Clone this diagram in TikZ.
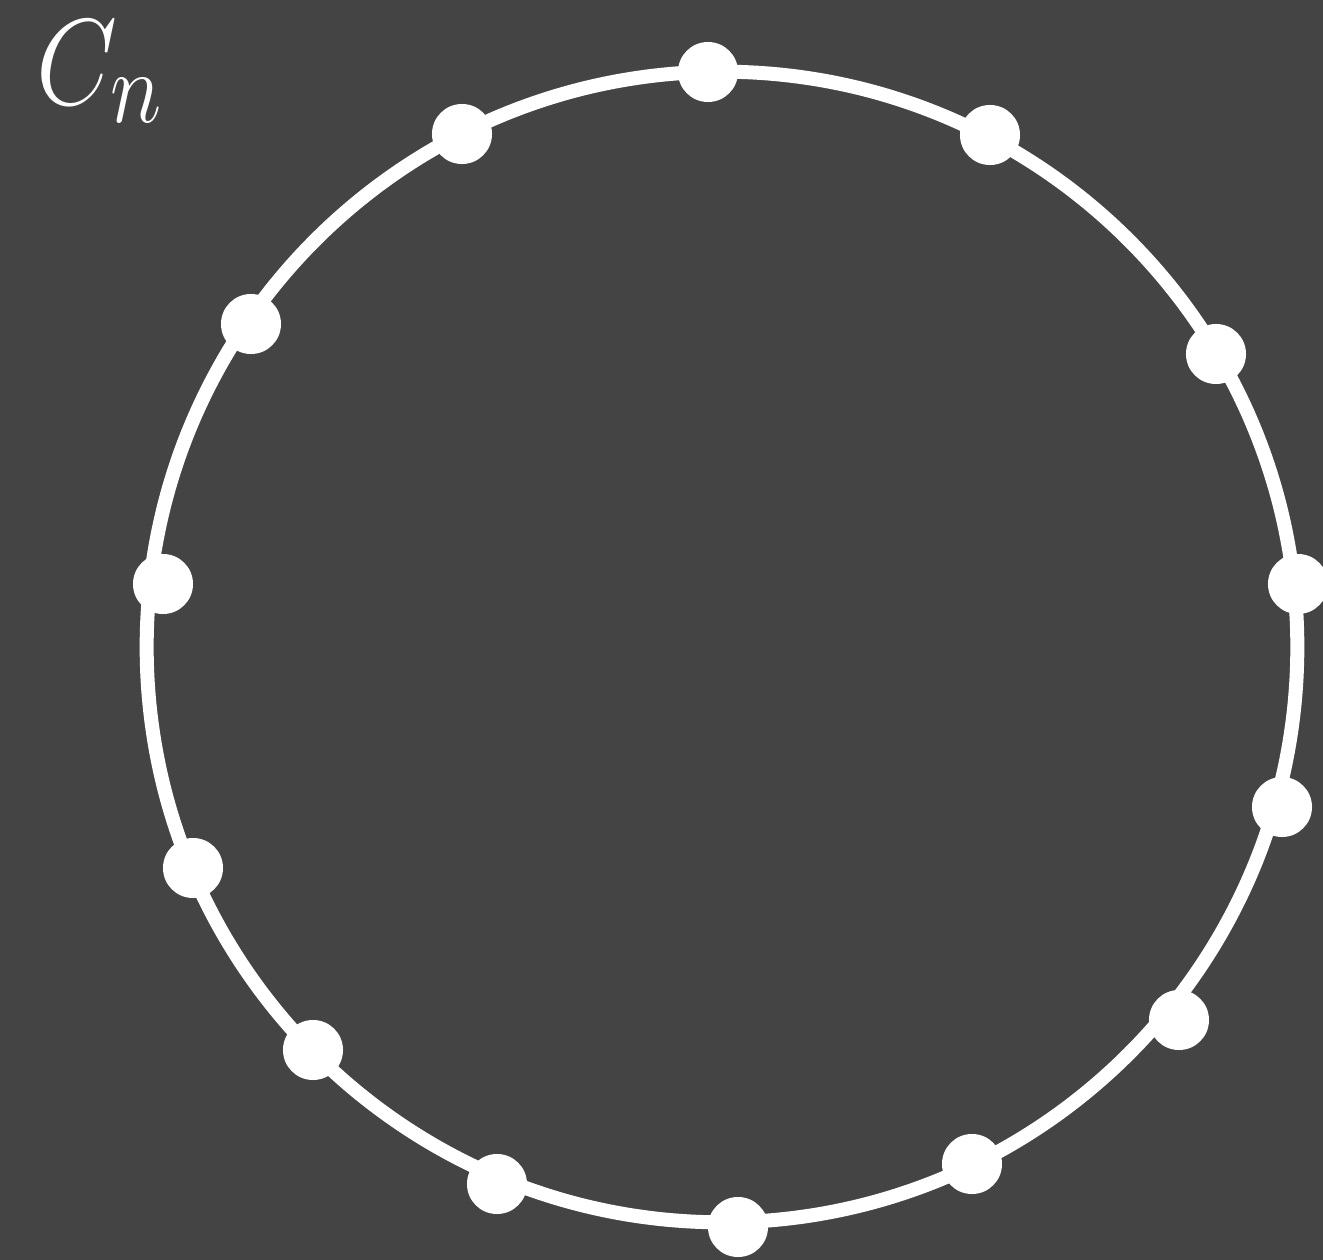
\documentclass[tikz,border=0pt]{standalone}
\usepackage{graphicx}
\usepackage{xcolor}
\definecolor{bgdark}{HTML}{444444}

\begin{document}
\begin{tikzpicture}[
    x=0.01cm,y=-0.01cm,
    ring/.style={draw=white,line width=0.14cm},
    vertex/.style={circle,fill=white,draw=none,inner sep=0pt,minimum size=0.6cm},
    title/.style={text=white,inner sep=0pt,font=\Huge}
]
\fill[bgdark] (0,0) rectangle (1323,1260);
\useasboundingbox (0,0) rectangle (1323,1260);
\node[title,anchor=base west] (label) at (36,104) {\scalebox{1.2}[1.4]{$C_n$}};
\draw[ring] (722,647) circle[radius=5.75cm];
\node[vertex] (v1) at (708,72) {};
\node[vertex] (v2) at (990,135) {};
\node[vertex] (v3) at (1216,354) {};
\node[vertex] (v4) at (1298,584) {};
\node[vertex] (v5) at (1282,807) {};
\node[vertex] (v6) at (1179,1020) {};
\node[vertex] (v7) at (972,1164) {};
\node[vertex] (v8) at (738,1227) {};
\node[vertex] (v9) at (497,1184) {};
\node[vertex] (v10) at (313,1050) {};
\node[vertex] (v11) at (193,868) {};
\node[vertex] (v12) at (163,584) {};
\node[vertex] (v13) at (251,324) {};
\node[vertex] (v14) at (462,134) {};
\end{tikzpicture}
\end{document}
